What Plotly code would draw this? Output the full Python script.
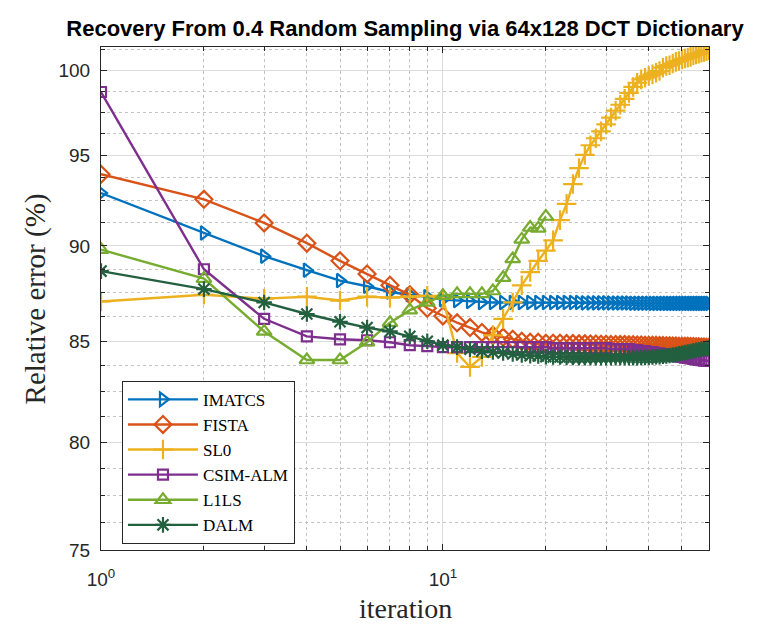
import plotly.graph_objects as go
import math

iterations = list(range(1, 61))
iter_l1ls = list(range(1, 21))

imatcs = [92.9, 90.7, 89.45, 88.7, 88.15, 87.85, 87.55, 87.4, 87.3, 87.15,
          87.1, 87.05, 87.0, 87.0, 87.0, 87.0, 87.0, 87.0, 87.0, 87.0,
          87.0, 87.0, 87.0, 87.0, 87.0, 86.98, 86.98, 86.98, 86.98, 86.98,
          86.97, 86.97, 86.97, 86.97, 86.97, 86.96, 86.96, 86.96, 86.96, 86.96,
          86.95, 86.95, 86.95, 86.95, 86.95, 86.95, 86.95, 86.95, 86.95, 86.95,
          86.95, 86.95, 86.95, 86.95, 86.95, 86.95, 86.95, 86.95, 86.95, 86.95]

fista = [93.95, 92.55, 91.25, 90.15, 89.2, 88.5, 87.9, 87.4, 86.7, 86.3,
         85.95, 85.7, 85.45, 85.3, 85.2, 85.1, 85.0, 84.95, 84.95, 84.9,
         84.9, 84.9, 84.88, 84.88, 84.87, 84.87, 84.86, 84.86, 84.85, 84.85,
         84.84, 84.84, 84.83, 84.83, 84.82, 84.82, 84.81, 84.81, 84.8, 84.8,
         84.79, 84.79, 84.78, 84.78, 84.77, 84.77, 84.76, 84.76, 84.75, 84.75,
         84.74, 84.74, 84.73, 84.73, 84.72, 84.72, 84.71, 84.71, 84.7, 84.7]

sl0 = [87.05, 87.4, 87.2, 87.3, 87.1, 87.3, 87.25, 87.3, 87.35, 87.2,
       84.4, 83.7, 84.2, 85.3, 86.15, 87.0, 87.9, 88.6, 89.2, 89.75,
       90.3, 91.4, 92.3, 93.4, 94.3, 95.05, 95.6, 96.0, 96.4, 96.8,
       97.2, 97.6, 97.95, 98.3, 98.65, 99.0, 99.25, 99.45, 99.55, 99.65,
       99.75, 99.85, 99.95, 100.15, 100.25, 100.3, 100.4, 100.5, 100.55, 100.65,
       100.7, 100.75, 100.8, 100.9, 100.95, 101.0, 101.05, 101.1, 101.15, 101.2]

csim_alm = [98.7, 88.75, 86.15, 85.25, 85.1, 85.05, 84.95, 84.8, 84.75, 84.7,
            84.7, 84.7, 84.7, 84.7, 84.7, 84.7, 84.7, 84.7, 84.7, 84.7,
            84.65, 84.65, 84.65, 84.65, 84.65, 84.65, 84.65, 84.65, 84.65, 84.65,
            84.6, 84.6, 84.6, 84.6, 84.6, 84.55, 84.55, 84.5, 84.5, 84.45,
            84.45, 84.4, 84.38, 84.35, 84.32, 84.3, 84.27, 84.25, 84.22, 84.2,
            84.17, 84.15, 84.13, 84.1, 84.08, 84.06, 84.04, 84.02, 84.01, 84.0]

l1ls = [89.8, 88.25, 85.5, 84.05, 84.05, 84.95, 85.95, 86.6, 87.0, 87.35,
        87.45, 87.45, 87.45, 87.6, 88.3, 89.3, 90.35, 91.0, 90.95, 91.6]

dalm = [88.65, 87.7, 87.0, 86.4, 86.0, 85.7, 85.5, 85.25, 85.0, 84.8,
        84.7, 84.6, 84.5, 84.45, 84.4, 84.35, 84.3, 84.27, 84.25, 84.22,
        84.2, 84.2, 84.18, 84.18, 84.17, 84.17, 84.16, 84.16, 84.16, 84.16,
        84.16, 84.16, 84.16, 84.16, 84.16, 84.17, 84.17, 84.18, 84.18, 84.19,
        84.2, 84.21, 84.22, 84.24, 84.26, 84.28, 84.3, 84.33, 84.36, 84.39,
        84.42, 84.45, 84.48, 84.51, 84.54, 84.57, 84.6, 84.62, 84.64, 84.66]

names = ["IMATCS", "FISTA", "SL0", "CSIM-ALM", "L1LS", "DALM"]
colors = ["#0072BD", "#D95319", "#EDB120", "#7E2F8E", "#77AC30", "#22603F"]
symbols = ["triangle-right-open", "diamond-open", "cross-thin-open",
           "square-open", "triangle-up-open", "asterisk-open"]
msizes = [12, 13, 14, 10, 13, 13]

x_tickvals = [1, 10]
x_ticktext = ["10<sup>0</sup>", "10<sup>1</sup>"]
x_minor = [2, 3, 4, 5, 6, 7, 8, 9, 20, 30, 40, 50, 60]
y_tickvals = [75, 80, 85, 90, 95, 100]
y_minor = [76.25, 77.5, 78.75, 81.25, 82.5, 83.75, 86.25, 87.5, 88.75,
           91.25, 92.5, 93.75, 96.25, 97.5, 98.75, 101.25]

series = [(iterations, imatcs), (iterations, fista), (iterations, sl0),
          (iterations, csim_alm), (iter_l1ls, l1ls), (iterations, dalm)]

fig = go.Figure()
for (xs, ys), name, c, s, ms in zip(series, names, colors, symbols, msizes):
    fig.add_trace(go.Scatter(
        x=xs, y=ys, mode="lines+markers", name=name,
        line=dict(color=c, width=2.4),
        marker=dict(symbol=s, size=ms, color=c, line=dict(color=c, width=2.2)),
    ))

axis_color = "#262626"
tick_font = dict(family="Liberation Sans, Arial, sans-serif", size=19, color=axis_color)

fig.update_layout(
    width=782, height=625,
    margin=dict(l=101, r=73, t=47, b=75),
    paper_bgcolor="white", plot_bgcolor="white",
    title=dict(text="<b>Recovery From 0.4 Random Sampling via 64x128 DCT Dictionary</b>",
               x=0.5, xref="paper", xanchor="center",
               y=1 - 28 / 625, yanchor="middle",
               font=dict(family="Liberation Sans, Arial, sans-serif", size=22, color="black")),
    showlegend=True,
    legend=dict(x=0.0345, y=0.3364, xanchor="left", yanchor="top",
                bgcolor="white", bordercolor=axis_color, borderwidth=1,
                font=dict(family="Liberation Serif, serif", size=17, color="black"),
                itemwidth=70, tracegroupgap=0),
    xaxis=dict(
        type="log", range=[0, math.log10(60)],
        tickmode="array", tickvals=x_tickvals, ticktext=x_ticktext,
        ticks="inside", ticklen=6, tickcolor=axis_color, tickwidth=1,
        showline=True, linecolor=axis_color, linewidth=1.2, mirror="allticks",
        showgrid=True, gridcolor="#dcdcdc", gridwidth=1,
        zeroline=False, tickfont=tick_font, ticklabelstandoff=12,
        minor=dict(tickmode="array", tickvals=x_minor, ticks="inside", ticklen=4,
                   tickcolor=axis_color, showgrid=True, gridcolor="#c4c4c4",
                   griddash="dot", gridwidth=1),
    ),
    yaxis=dict(
        type="log", range=[math.log10(75), math.log10(101.4)],
        tickmode="array", tickvals=y_tickvals, ticktext=[str(v) for v in y_tickvals],
        ticks="inside", ticklen=6, tickcolor=axis_color, tickwidth=1,
        showline=True, linecolor=axis_color, linewidth=1.2, mirror="allticks",
        showgrid=True, gridcolor="#dcdcdc", gridwidth=1,
        zeroline=False, tickfont=tick_font, ticklabelstandoff=6,
        minor=dict(tickmode="array", tickvals=y_minor, ticks="inside", ticklen=4,
                   tickcolor=axis_color, showgrid=True, gridcolor="#c4c4c4",
                   griddash="dot", gridwidth=1),
    ),
    annotations=[
        dict(text="iteration", xref="paper", yref="paper", x=0.5, y=-0.117,
             xanchor="center", yanchor="middle", showarrow=False,
             font=dict(family="Liberation Serif, serif", size=28, color=axis_color)),
        dict(text="Relative error (%)", xref="paper", yref="paper", x=-0.107, y=0.5,
             xanchor="center", yanchor="middle", showarrow=False, textangle=-90,
             font=dict(family="Liberation Serif, serif", size=29, color=axis_color)),
    ],
)

fig.write_html("out.html")
